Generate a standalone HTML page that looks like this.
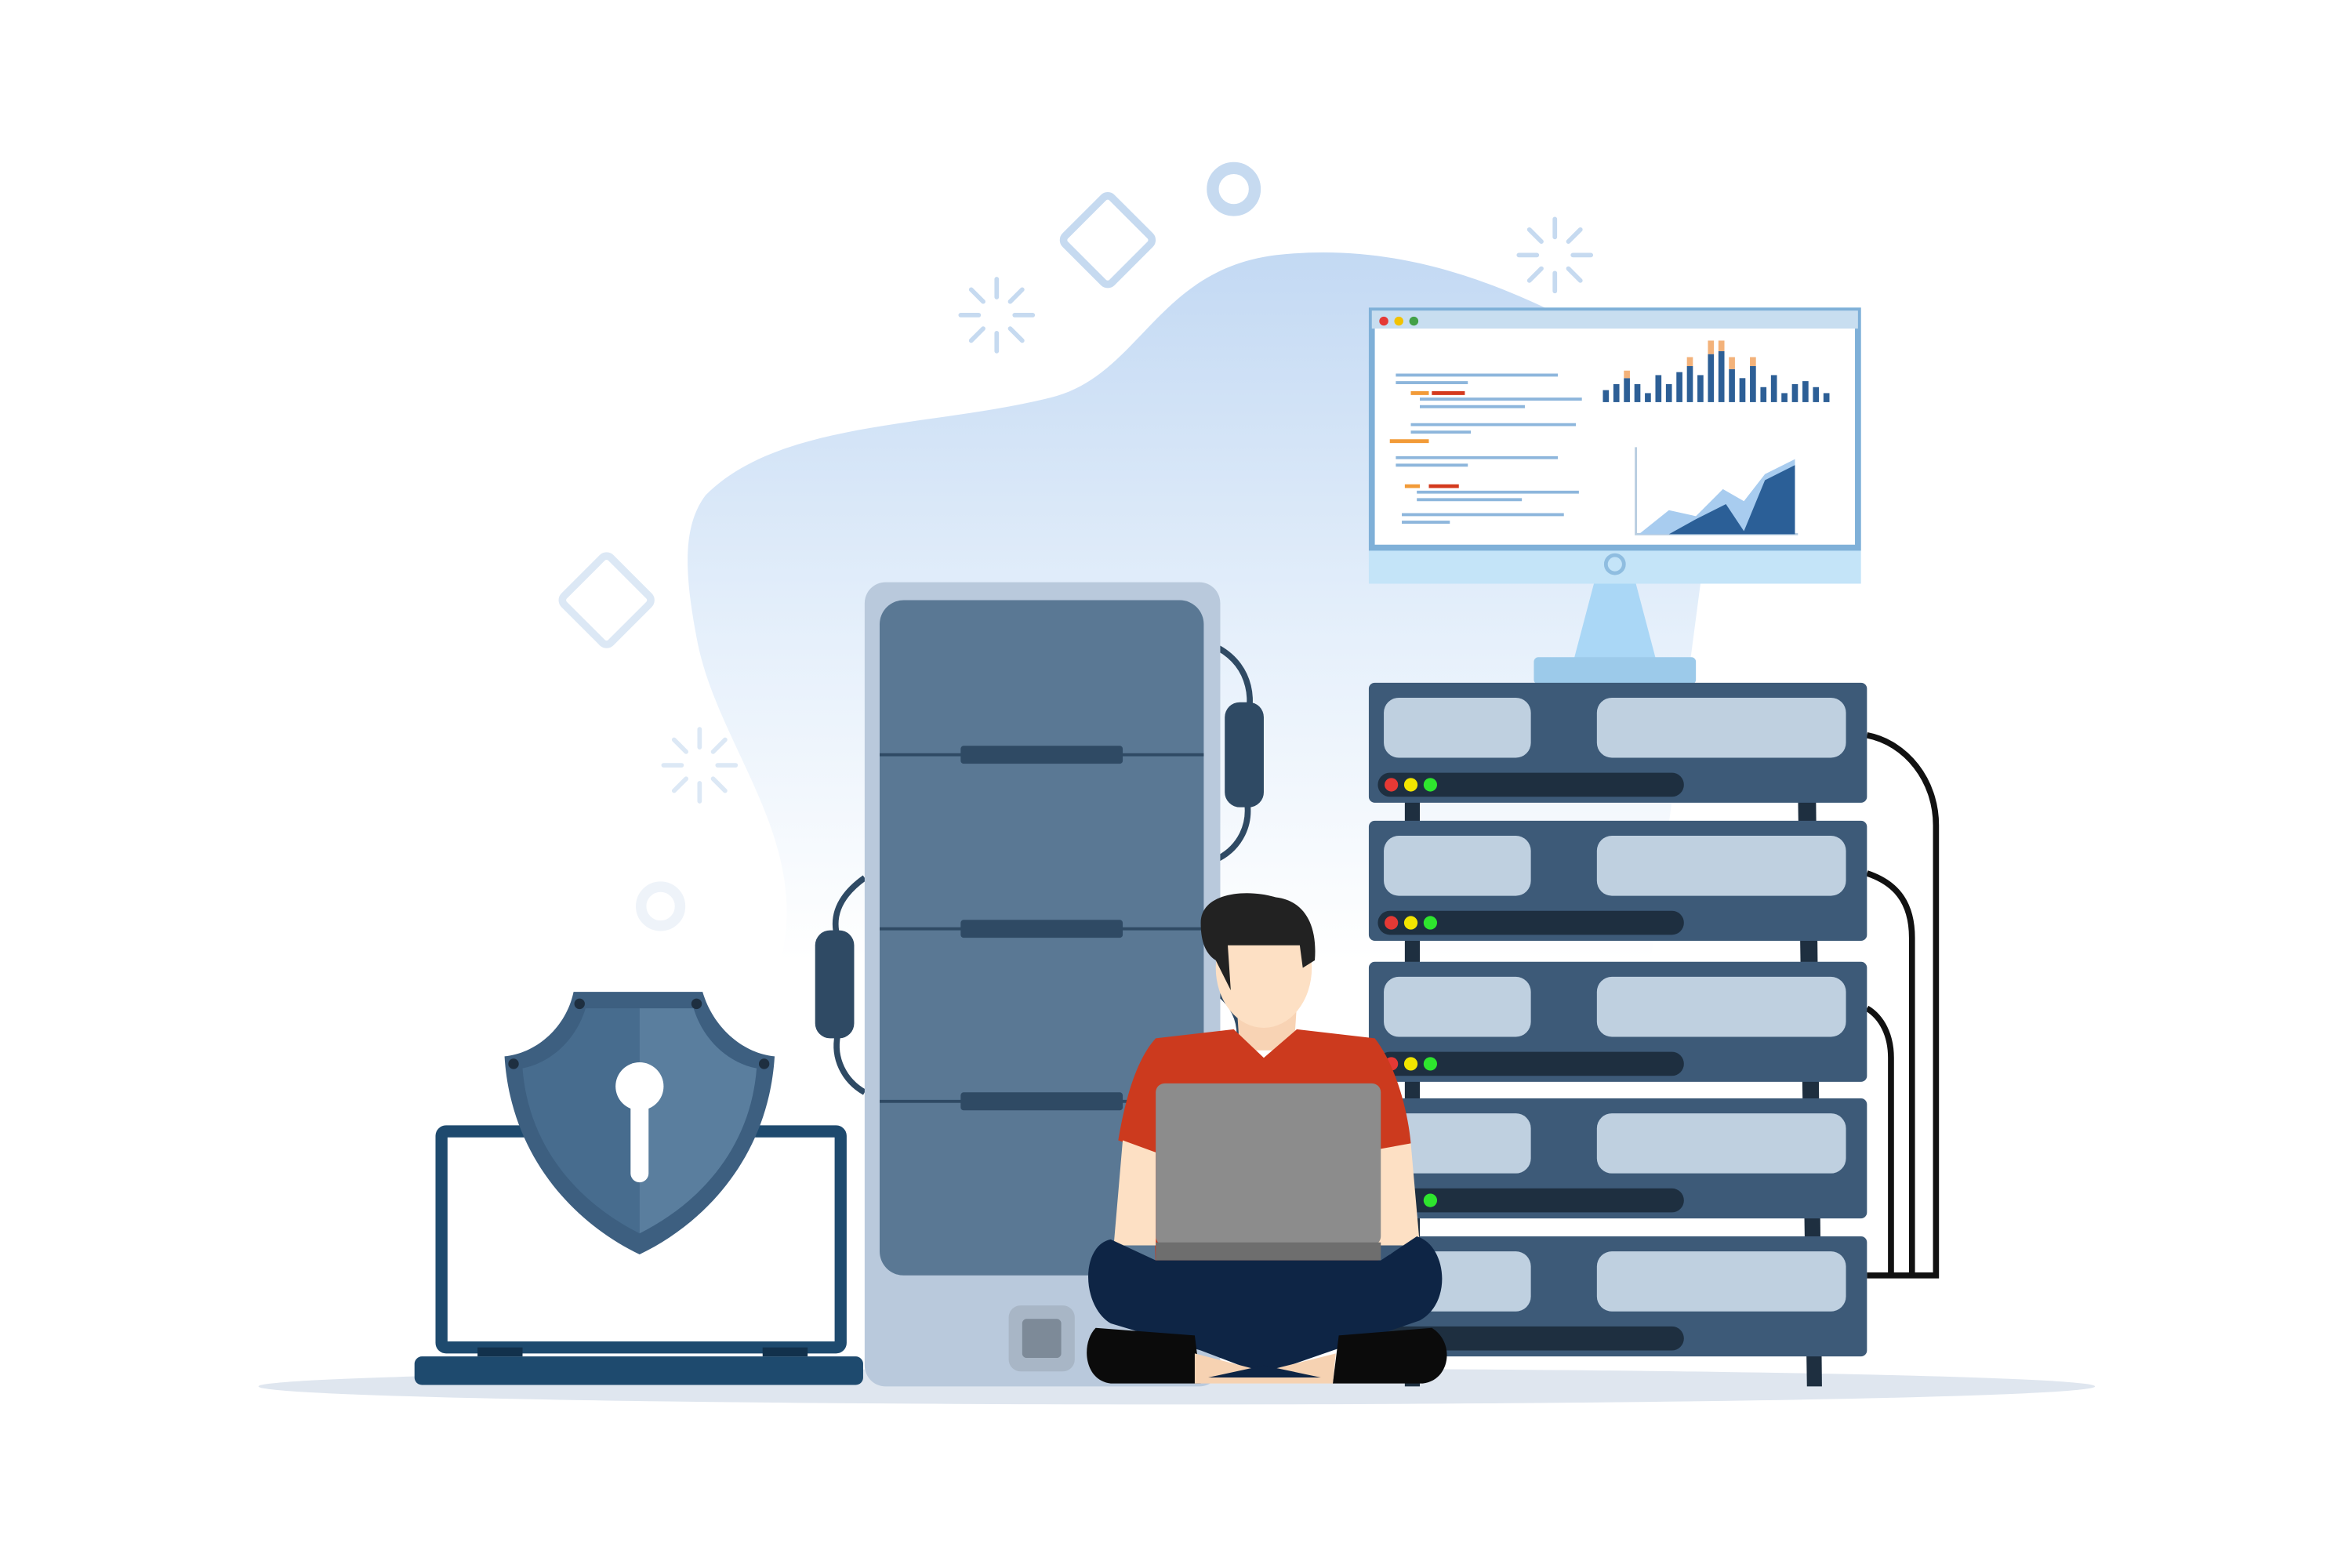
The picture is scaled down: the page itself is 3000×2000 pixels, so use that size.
<!DOCTYPE html>
<html><head><meta charset="utf-8"><style>html,body{margin:0;padding:0;background:#fff}svg{display:block}</style></head>
<body>
<svg width="3000" height="2000" viewBox="0 0 1567 1045" xmlns="http://www.w3.org/2000/svg">
<defs>
<linearGradient id="bg" x1="0" y1="0" x2="0" y2="1">
<stop offset="0" stop-color="#c3d9f3"/><stop offset="0.55" stop-color="#e6f0fb"/><stop offset="1" stop-color="#ffffff"/>
</linearGradient>
</defs>
<rect width="1567" height="1045" fill="#fff"/>
<path d="M470,330 C520,280 620,285 700,265 C760,250 770,180 850,170 C940,160 1010,195 1060,220 L1150,260 L1100,640 L520,640 C540,560 480,500 465,430 C455,380 455,350 470,330 Z" fill="url(#bg)"/>
<g fill="none" stroke="#c6daf0" stroke-width="5">
<rect x="716" y="138" width="44" height="44" rx="4" transform="rotate(45 738 160)"/>
<rect x="382" y="378" width="44" height="44" rx="4" transform="rotate(45 404 400)" stroke="#dce8f5"/>
<circle cx="822" cy="126" r="14" stroke-width="8"/>
<circle cx="440" cy="604" r="13" stroke-width="7" stroke="#eef3f9"/>
</g>
<g stroke="#c6daf0" stroke-width="3" stroke-linecap="round">
<path d="M664,186v12M664,222v12M640,210h12M676,210h12M647,193l8,8M673,219l8,8M681,193l-8,8M655,219l-8,8"/>
<path d="M1036,146v12M1036,182v12M1012,170h12M1048,170h12M1019,153l8,8M1045,179l8,8M1053,153l-8,8M1027,179l-8,8"/>
<path d="M466,486v12M466,522v12M442,510h12M478,510h12M449,493l8,8M475,519l8,8M483,493l-8,8M457,519l-8,8" stroke="#dce8f5"/>
</g>
<ellipse cx="784" cy="924" rx="612" ry="12" fill="#dfe6ef"/>
<path d="M1062,389 L1090,389 L1104,442 L1048,442 Z" fill="#aad7f6"/>
<rect x="1022" y="438" width="108" height="18" rx="3" fill="#9ccaea"/>
<rect x="912" y="205" width="328" height="184" fill="#c4e4f8"/>
<rect x="914" y="207" width="324" height="158" fill="#fff" stroke="#7fb0d8" stroke-width="4"/>
<rect x="914" y="207" width="324" height="12" fill="#c8def0"/>
<circle cx="922" cy="214" r="3" fill="#e53935"/><circle cx="932" cy="214" r="3" fill="#f2c200"/><circle cx="942" cy="214" r="3" fill="#43a047"/>
<circle cx="1076" cy="376" r="6" fill="none" stroke="#8fbde0" stroke-width="2.5"/>
<g stroke="#8db6dc" stroke-width="2">
<path d="M930,250h108M930,255h48M946,266h108M946,271h70M940,283h110M940,288h40M930,305h108M930,310h48M944,328h108M944,333h70M934,343h108M934,348h32"/>
</g>
<g stroke-width="2.5"><path d="M940,262h12M926,294h26M936,324h10" stroke="#f29b38"/><path d="M954,262h22M952,324h20" stroke="#d43a1e"/></g>
<g fill="#2d5f96">
<rect x="1068" y="260" width="4" height="8"/><rect x="1075" y="256" width="4" height="12"/><rect x="1082" y="252" width="4" height="16"/><rect x="1089" y="256" width="4" height="12"/><rect x="1096" y="262" width="4" height="6"/><rect x="1103" y="250" width="4" height="18"/><rect x="1110" y="256" width="4" height="12"/><rect x="1117" y="248" width="4" height="20"/><rect x="1124" y="244" width="4" height="24"/><rect x="1131" y="250" width="4" height="18"/><rect x="1138" y="236" width="4" height="32"/><rect x="1145" y="234" width="4" height="34"/><rect x="1152" y="246" width="4" height="22"/><rect x="1159" y="252" width="4" height="16"/><rect x="1166" y="244" width="4" height="24"/><rect x="1173" y="258" width="4" height="10"/><rect x="1180" y="250" width="4" height="18"/><rect x="1187" y="262" width="4" height="6"/><rect x="1194" y="256" width="4" height="12"/><rect x="1201" y="254" width="4" height="14"/><rect x="1208" y="258" width="4" height="10"/><rect x="1215" y="262" width="4" height="6"/>
</g>
<g fill="#f3b27a"><rect x="1124" y="238" width="4" height="6"/><rect x="1138" y="227" width="4" height="9"/><rect x="1145" y="227" width="4" height="7"/><rect x="1152" y="238" width="4" height="8"/><rect x="1166" y="238" width="4" height="6"/><rect x="1082" y="247" width="4" height="5"/></g>
<path d="M1090,298V356H1198" fill="none" stroke="#b8cde0" stroke-width="1.5"/>
<path d="M1092,356 L1112,340 L1130,344 L1148,326 L1162,334 L1176,316 L1196,306 L1196,356 Z" fill="#a8ccef"/>
<path d="M1112,356 L1130,346 L1150,336 L1162,354 L1176,320 L1196,310 L1196,356 Z" fill="#2b5f97"/>
<g fill="none" stroke="#111" stroke-width="4">
<path d="M1244,490 C1270,495 1290,520 1290,550 V850 H1244"/>
<path d="M1244,582 C1262,588 1274,600 1274,625 V850"/>
<path d="M1244,672 C1254,678 1260,690 1260,705 V850"/>
</g>
<g fill="#1e2f40">
<path d="M936,530 L946,530 L946,924 L936,924 Z"/><path d="M1198,530 L1210,530 L1214,924 L1204,924 Z"/>
</g>
<g>
<g>
<rect x="912" y="455" width="332" height="80" rx="4" fill="#3d5a78"/><rect x="922" y="465" width="98" height="40" rx="10" fill="#bfd0e0"/><rect x="1064" y="465" width="166" height="40" rx="10" fill="#bfd0e0"/><rect x="918" y="515" width="204" height="16" rx="8" fill="#1e2f40"/><circle cx="927" cy="523" r="4.5" fill="#e53935"/><circle cx="940" cy="523" r="4.5" fill="#f2e500"/><circle cx="953" cy="523" r="4.5" fill="#2ee52e"/>
</g>
<g transform="translate(0,92)">
<rect x="912" y="455" width="332" height="80" rx="4" fill="#3d5a78"/><rect x="922" y="465" width="98" height="40" rx="10" fill="#bfd0e0"/><rect x="1064" y="465" width="166" height="40" rx="10" fill="#bfd0e0"/><rect x="918" y="515" width="204" height="16" rx="8" fill="#1e2f40"/><circle cx="927" cy="523" r="4.5" fill="#e53935"/><circle cx="940" cy="523" r="4.5" fill="#f2e500"/><circle cx="953" cy="523" r="4.5" fill="#2ee52e"/>
</g>
<g transform="translate(0,186)">
<rect x="912" y="455" width="332" height="80" rx="4" fill="#3d5a78"/><rect x="922" y="465" width="98" height="40" rx="10" fill="#bfd0e0"/><rect x="1064" y="465" width="166" height="40" rx="10" fill="#bfd0e0"/><rect x="918" y="515" width="204" height="16" rx="8" fill="#1e2f40"/><circle cx="927" cy="523" r="4.5" fill="#e53935"/><circle cx="940" cy="523" r="4.5" fill="#f2e500"/><circle cx="953" cy="523" r="4.5" fill="#2ee52e"/>
</g>
<g transform="translate(0,277)">
<rect x="912" y="455" width="332" height="80" rx="4" fill="#3d5a78"/><rect x="922" y="465" width="98" height="40" rx="10" fill="#bfd0e0"/><rect x="1064" y="465" width="166" height="40" rx="10" fill="#bfd0e0"/><rect x="918" y="515" width="204" height="16" rx="8" fill="#1e2f40"/><circle cx="953" cy="523" r="4.5" fill="#2ee52e"/>
</g>
<g transform="translate(0,369)">
<rect x="912" y="455" width="332" height="80" rx="4" fill="#3d5a78"/><rect x="922" y="465" width="98" height="40" rx="10" fill="#bfd0e0"/><rect x="1064" y="465" width="166" height="40" rx="10" fill="#bfd0e0"/><rect x="918" y="515" width="204" height="16" rx="8" fill="#1e2f40"/>
</g>
</g>
<g fill="none" stroke="#2f4a64" stroke-width="4">
<path d="M812,432 C835,445 835,470 830,480"/><path d="M830,530 C835,550 825,565 812,572"/>
<path d="M576,585 C555,600 555,615 558,625"/><path d="M558,690 C555,705 562,720 576,728"/>
<path d="M812,662 C822,670 826,680 826,690"/>
</g>
<rect x="816" y="468" width="26" height="70" rx="10" fill="#2f4a64"/>
<rect x="543" y="620" width="26" height="72" rx="10" fill="#2f4a64"/>
<rect x="576" y="388" width="237" height="536" rx="14" fill="#b9c9dc"/>
<rect x="586" y="400" width="216" height="450" rx="16" fill="#5a7894"/>
<g stroke="#2f4a64" stroke-width="2"><path d="M586,503H802M586,619H802M586,734H802"/></g>
<g fill="#2f4a64"><rect x="640" y="497" width="108" height="12" rx="2"/><rect x="640" y="613" width="108" height="12" rx="2"/><rect x="640" y="728" width="108" height="12" rx="2"/></g>
<rect x="672" y="870" width="44" height="44" rx="8" fill="#a8b6c6"/>
<rect x="681" y="879" width="26" height="26" rx="3" fill="#7d8a98"/>
<rect x="294" y="754" width="266" height="144" rx="3" fill="#fff" stroke="#1e4a6e" stroke-width="8"/>
<rect x="276" y="904" width="299" height="19" rx="5" fill="#1e4a6e"/>
<rect x="318" y="898" width="30" height="6" fill="#12314c"/><rect x="508" y="898" width="30" height="6" fill="#12314c"/>
<path d="M382,661 L468,661 C475,685 495,702 516,704 C512,770 470,815 426,836 C382,815 340,770 336,704 C357,702 377,685 382,661 Z" fill="#3d5f80"/>
<path d="M390,672 L426,672 L426,822 C386,802 352,765 348,712 C368,708 384,692 390,672 Z" fill="#476c8e"/>
<path d="M426,672 L462,672 C468,692 484,708 504,712 C500,765 466,802 426,822 Z" fill="#5a7e9e"/>
<circle cx="386" cy="669" r="3.5" fill="#1e2f40"/><circle cx="464" cy="669" r="3.5" fill="#1e2f40"/><circle cx="342" cy="709" r="3.5" fill="#1e2f40"/><circle cx="509" cy="709" r="3.5" fill="#1e2f40"/>
<circle cx="426" cy="724" r="16" fill="#fff"/><rect x="420" y="726" width="12" height="62" rx="6" fill="#fff"/>
<path d="M822,640 L866,640 L862,700 L826,700 Z" fill="#f8d3b4"/>
<ellipse cx="842" cy="645" rx="32" ry="40" fill="#fde0c4"/>
<path d="M800,615 C800,595 830,592 850,598 C868,600 878,615 876,640 L868,645 L866,630 L818,630 L820,660 L810,640 C802,635 800,625 800,615 Z" fill="#222"/>
<path d="M770,692 L822,686 L842,705 L864,686 L916,692 C930,710 938,740 940,762 L920,768 L918,850 L770,850 L768,768 L745,760 C750,730 758,705 770,692 Z" fill="#cc3a1e"/>
<path d="M748,760 L770,768 L770,830 L742,830 Z" fill="#fde0c4"/>
<path d="M918,766 L940,762 L946,830 L918,830 Z" fill="#fde0c4"/>
<rect x="770" y="722" width="150" height="108" rx="6" fill="#8c8c8c"/>
<rect x="770" y="828" width="150" height="12" fill="#6e6e6e"/>
<path d="M740,826 C720,830 720,870 740,882 L800,900 L842,916 L888,900 L946,880 C968,868 964,830 944,824 L920,840 L770,840 Z" fill="#0e2545"/>
<path d="M730,885 C720,895 722,920 740,922 L800,922 L796,890 Z" fill="#0b0b0b"/>
<path d="M954,885 C970,895 966,920 948,922 L888,922 L892,890 Z" fill="#0b0b0b"/>
<path d="M796,902 L842,914 L890,902 L888,922 L796,922 Z" fill="#f6d2b2"/>
<path d="M805,918 L880,918 L842,910 Z" fill="#0e2545"/>
</svg>
</body></html>
